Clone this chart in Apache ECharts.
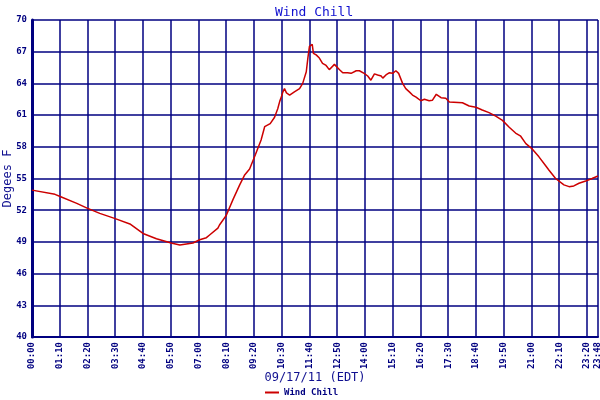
<!DOCTYPE html>
<html><head><meta charset="utf-8">
<script src="https://cdn.jsdelivr.net/npm/echarts@6/dist/echarts.min.js"></script>
<style>html,body{margin:0;padding:0;background:#fff}#c{width:600px;height:400px}</style>
</head><body><div id="c"></div>
<script>
// minutes after midnight (09/17/11 EDT)
const minutes = [0,58,71,113,139,171,210,247,280,314,351,373,406,423,440,448,469,473,490,507,524,536,549,564,578,587,601,612,620,625,629,633,637,640,642,650,654,662,675,683,692,696,700,704,707,710,717,725,733,742,750,755,763,767,776,784,796,805,818,826,838,847,855,864,872,881,885,893,901,910,918,925,935,943,952,960,969,981,990,1002,1010,1020,1032,1044,1053,1086,1090,1103,1120,1136,1153,1170,1187,1204,1220,1233,1246,1262,1279,1296,1304,1321,1325,1342,1355,1367,1380,1397,1413,1428];
const windChill = [53.9,53.5,53.3,52.65,52.2,51.7,51.2,50.7,49.8,49.3,48.9,48.7,48.9,49.2,49.4,49.65,50.3,50.6,51.5,53.0,54.4,55.3,55.9,57.3,58.65,59.9,60.2,60.8,61.6,62.3,62.7,63.2,63.5,63.6,63.1,62.9,62.75,63.2,63.5,64.0,65.1,66.4,67.5,67.6,67.7,66.85,66.7,66.4,65.9,65.7,65.3,65.3,65.8,65.7,65.3,65.0,65.0,64.95,65.2,65.2,64.95,64.7,64.3,64.9,64.8,64.7,64.5,64.8,65.0,64.95,65.2,64.95,64.0,63.5,63.2,62.9,62.7,62.36,62.5,62.36,62.4,62.97,62.65,62.6,62.24,62.17,62.0,61.86,61.74,61.48,61.23,60.9,60.5,59.85,59.3,59.0,58.3,57.8,57.05,56.2,55.8,55.0,54.86,54.4,54.23,54.3,54.55,54.76,55.0,55.24];
const titleText = 'Wind Chill';
const xName = '09/17/11 (EDT)';
const yName = 'Degees F';
const xMax = 1428;

function fmt(v){const h=Math.floor(v/60),m=Math.round(v%60);return String(h).padStart(2,'0')+':'+String(m).padStart(2,'0');}
const navy='#000080';
const mono='"DejaVu Sans Mono", "Liberation Mono", monospace';
const chart = echarts.init(document.getElementById('c'), null, {renderer:'canvas'});
chart.setOption({
  animation:false,
  backgroundColor:'#fff',
  title:{text:titleText,top:1,left:270,textStyle:{color:'#1010d0',fontFamily:mono,fontSize:13,fontWeight:'normal'}},
  legend:{top:388,left:265,itemWidth:14,itemHeight:2,itemGap:3,icon:'rect',padding:0,
    textStyle:{color:navy,fontFamily:mono,fontSize:9,fontWeight:'bold'}},
  grid:{left:32,right:2,top:20,bottom:63,containLabel:false,outerBoundsMode:'none'},
  xAxis:{type:'value',min:0,max:xMax,interval:70,
    name:xName,nameLocation:'middle',nameGap:35,nameMoveOverlap:false,
    nameTextStyle:{color:'#101090',fontFamily:mono,fontSize:12},
    axisLine:{show:true,lineStyle:{color:navy,width:2}},
    axisTick:{show:false},
    axisLabel:{rotate:90,color:navy,fontFamily:mono,fontSize:9,fontWeight:'bold',margin:5,formatter:fmt,showMaxLabel:true,showMinLabel:true,hideOverlap:false},
    splitLine:{show:true,lineStyle:{color:navy,width:1.5}}},
  yAxis:{type:'value',min:40,max:70,interval:3,
    name:yName,nameLocation:'middle',nameGap:18,nameMoveOverlap:false,
    nameTextStyle:{color:'#101090',fontFamily:mono,fontSize:12},
    axisLine:{show:true,lineStyle:{color:navy,width:3}},
    axisTick:{show:false},
    axisLabel:{color:navy,fontFamily:mono,fontSize:9,fontWeight:'bold',margin:5},
    splitLine:{show:true,lineStyle:{color:navy,width:1.5}}},
  series:[{name:titleText,type:'line',data:minutes.map((m,i)=>[m,windChill[i]]),
    showSymbol:false,symbol:'none',lineStyle:{color:'#cc0000',width:1.5},itemStyle:{color:'#cc0000'}}]
});
</script></body></html>
